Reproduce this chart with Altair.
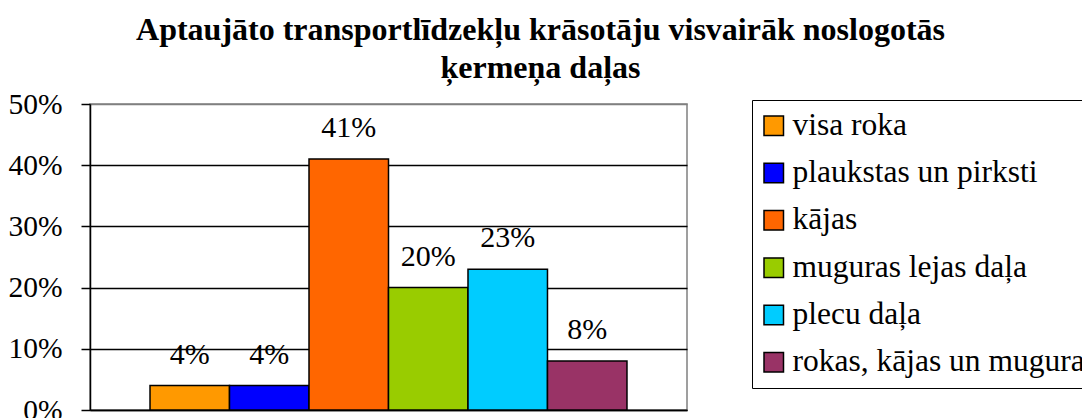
import altair as alt
import pandas as pd

categories = ["visa roka", "plaukstas un pirksti", "kājas", "muguras lejas daļa",
              "plecu daļa", "rokas, kājas un mugura"]
values = [0.04, 0.04, 0.41, 0.20, 0.23, 0.08]
colors = ["#FF9900", "#0000FF", "#FF6600", "#99CC00", "#00CCFF", "#993366"]
y_ticks = [0, 0.1, 0.2, 0.3, 0.4, 0.5]
title_lines = ["Aptaujāto transportlīdzekļu krāsotāju visvairāk noslogotās",
               "ķermeņa daļas"]

df = pd.DataFrame({"cat": categories, "val": values})

FONT = "Liberation Serif"

x = alt.X("cat:N", sort=categories,
          scale=alt.Scale(paddingInner=0, paddingOuter=0.755),
          axis=alt.Axis(labels=False, ticks=False, title=None,
                        domainColor="black", domainWidth=1.5, grid=False))
y = alt.Y("val:Q", scale=alt.Scale(domain=[0, 0.5]),
          axis=alt.Axis(values=y_ticks, format=".0%", title=None,
                        labelFont=FONT, labelFontSize=29.5, labelColor="black",
                        labelPadding=19, tickSize=9, tickColor="black", tickWidth=1.5,
                        domainColor="black", domainWidth=1.5,
                        grid=True, gridWidth=1.5,
                        gridColor={"condition": {"test": "datum.value >= 0.5", "value": "#808080"},
                                   "value": "black"}))

bars = alt.Chart(df).mark_bar(stroke="black", strokeWidth=1.5, opacity=1).encode(
    x=x, y=y,
    color=alt.Color("cat:N", sort=categories,
                    scale=alt.Scale(domain=categories, range=colors),
                    legend=alt.Legend(orient="none", legendX=662, legendY=-4,
                                      title=None, strokeColor="black", fillColor="white",
                                      padding=10, symbolType="square", symbolSize=380,
                                      symbolStrokeColor="black", symbolStrokeWidth=1.5,
                                      symbolOpacity=1, symbolOffset=-4,
                                      labelFont=FONT, labelFontSize=31.5, labelColor="black",
                                      labelOffset=3, rowPadding=14.3, labelLimit=500))
)

text = alt.Chart(df).mark_text(dy=-22, baseline="alphabetic", font=FONT,
                               fontSize=30, color="black").encode(
    x=alt.X("cat:N", sort=categories), y=alt.Y("val:Q"),
    text=alt.Text("val:Q", format=".0%"))

chart = alt.layer(bars, text).properties(
    width=597, height=306,
    title=alt.TitleParams(text=title_lines, font=FONT, fontSize=32, fontWeight="bold",
                          color="black", anchor="middle", dx=152, lineHeight=38, offset=4),
    padding={"left": 82, "top": 96, "right": 395, "bottom": 20},
    autosize=alt.AutoSizeParams(type="none"),
).configure_view(stroke="#808080", strokeWidth=1.5)

chart.save("out.html", embed_options={"renderer": "svg", "actions": False})
